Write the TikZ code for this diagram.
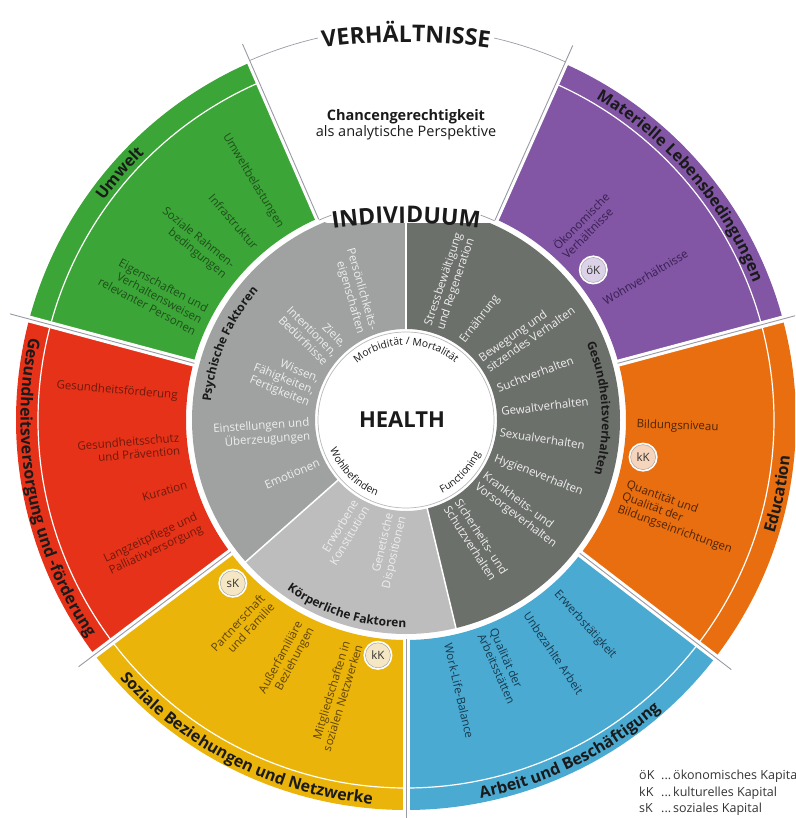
\documentclass[tikz,border=0pt]{standalone}
\usepackage{fontspec}
\setmainfont{Open Sans}
\usepackage{xcolor}
\usepackage{tikz}
\usetikzlibrary{positioning, decorations.text}

\definecolor{umwelt}{HTML}{3CA537}
\definecolor{versorgung}{HTML}{E63219}
\definecolor{sozial}{HTML}{EBB40A}
\definecolor{arbeit}{HTML}{4BAAD2}
\definecolor{bildung}{HTML}{E86E0F}
\definecolor{materiell}{HTML}{8255A5}
\definecolor{verhalten}{HTML}{6C706B}
\definecolor{psyche}{HTML}{A0A2A2}
\definecolor{koerper}{HTML}{BCBDBC}
\definecolor{umwelttxt}{HTML}{1E4F1C}
\definecolor{versorgungtxt}{HTML}{6E1A0C}
\definecolor{sozialtxt}{HTML}{5E4308}
\definecolor{arbeittxt}{HTML}{173A4E}
\definecolor{bildungtxt}{HTML}{4E2408}
\definecolor{materielltxt}{HTML}{37204F}
\definecolor{ringtxt}{HTML}{EEEEEE}
\definecolor{ttl}{HTML}{1A1A1A}
\definecolor{divgray}{HTML}{9A9AA6}
\definecolor{capoek}{HTML}{DCD2E8}
\definecolor{capkk}{HTML}{F6D5BC}
\definecolor{capsk}{HTML}{F5E6C4}

\newcommand{\itemfont}{\fontsize{11.5}{13}\selectfont}
\newcommand{\ttlfont}{\fontsize{16}{16}\selectfont\bfseries}
\newcommand{\ringfont}{\fontsize{12}{12}\selectfont\bfseries}
\newcommand{\corefont}{\fontsize{10.3}{10}\selectfont}

\tikzset{
  ltxt/.style={font=\itemfont, inner sep=0.5pt, anchor=east, align=right},
  rtxt/.style={font=\itemfont, inner sep=0.5pt, anchor=west, align=left},
  capital/.style={circle, minimum size=25pt, inner sep=0pt, fill=#1, draw=gray!70, line width=0.5pt,
    preaction={draw=white, line width=4pt}, font=\fontsize{11.5}{11}\selectfont, text=black!80},
  divider/.style={draw=divgray, line width=0.9pt},
  gap/.style={draw=white, line width=7pt},
  ttlarc/.style={decorate, decoration={text along path, text align=center, text color=ttl, text={|\ttlfont|#1}}},
  ringarc/.style={decorate, decoration={text along path, text align=center, text color=ttl, text={|\ringfont|#1}}},
  corearc/.style={decorate, decoration={text along path, text align=center, text color=ttl, text={|\corefont|#1}}},
  legend/.style={font=\fontsize{12.5}{14}\selectfont, text=black!80, anchor=base west, inner sep=0pt},
}

\begin{document}
\begin{tikzpicture}[x=1pt, y=1pt]
  \useasboundingbox (-406,-398) rectangle (389,420);
  \clip (-406,-398) rectangle (389,420);

  % Outer ring: Verhaeltnisse
  \foreach \a/\b/\c in {113.5/165/umwelt, 165/217/versorgung, 217/270/sozial,
                        270/322.5/arbeit, 322.5/375/bildung, 15/66/materiell} {
    \fill[\c] (\a:220) arc[start angle=\a, end angle=\b, radius=220]
      -- (\b:390) arc[start angle=\b, end angle=\a, radius=390] -- cycle;
    \draw[white, line width=1.2pt] (\a:368) arc[start angle=\a, end angle=\b, radius=368];
  }

  % Inner ring: Individuum
  \foreach \a/\b/\c in {-76.5/90/verhalten, 90/221.5/psyche, 221.5/283.5/koerper} {
    \fill[\c] (\a:91) arc[start angle=\a, end angle=\b, radius=91]
      -- (\b:214) arc[start angle=\b, end angle=\a, radius=214] -- cycle;
  }
  \foreach \a in {90, 221.5, 283.5}
    \draw[white, line width=1.5pt] (\a:90) -- (\a:215);

  % Core
  \fill[white] (0,0) circle[radius=89.5];
  \draw[gray!55, line width=0.7pt] (0,0) circle[radius=88];

  % Sector borders
  \foreach \a in {15, 66, 113.5, 165, 217, 270, 322.5} {
    \draw[gap] (\a:215) -- (\a:420);
    \draw[divider] (\a:219) -- (\a:410);
  }

  % Headings of both rings
  \fill[white, rounded corners=6pt] (-84,197) rectangle (88,232);
  \draw[divider, line width=0.7pt] (113.5:218) arc[start angle=113.5, end angle=110, radius=218];
  \draw[divider, line width=0.7pt] (70:218) arc[start angle=70, end angle=66, radius=218];
  \draw[divider, line width=0.7pt] (113.5:392) arc[start angle=113.5, end angle=103, radius=392];
  \draw[divider, line width=0.7pt] (77:392) arc[start angle=77, end angle=66, radius=392];
  \path[decorate, decoration={text along path, text align=center, text color=ttl,
      text={|\fontsize{23}{23}\selectfont\bfseries|VERHÄLTNISSE}}]
    ([shift={(0,-222)}]101:600) arc[start angle=101, end angle=79, radius=600];
  \path[decorate, decoration={text along path, text align=center, text color=ttl,
      text={|\fontsize{23}{23}\selectfont\bfseries|INDIVIDUUM}}]
    ([shift={(0,-303)}]100:500) arc[start angle=100, end angle=80, radius=500];

  \node[align=center, font=\fontsize{14.5}{16}\selectfont, text=ttl] (chance) at (0,295)
    {\textbf{Chancengerechtigkeit}\\als analytische Perspektive};

  % Sector titles
  \path[ttlarc=Umwelt] (165:373.5) arc[start angle=165, end angle=113.5, radius=373.5];
  \path[ttlarc=Materielle Lebensbedingungen] (66:373.5) arc[start angle=66, end angle=15, radius=373.5];
  \path[ttlarc=Gesundheitsversorgung und -förderung] (165:385.5) arc[start angle=165, end angle=217, radius=385.5];
  \path[ttlarc=Soziale Beziehungen und Netzwerke] (217:385.5) arc[start angle=217, end angle=270, radius=385.5];
  \path[ttlarc=Arbeit und Beschäftigung] (270:385.5) arc[start angle=270, end angle=322.5, radius=385.5];
  \path[ttlarc=Education] (322.5:385.5) arc[start angle=322.5, end angle=375, radius=385.5];

  % Umwelt
  \node[ltxt, text=umwelttxt, rotate=-59] (ubel) at (123:229) {Umweltbelastungen};
  \node[ltxt, text=umwelttxt, rotate=-49] (infra) at (131:228) {Infrastruktur};
  \node[ltxt, text=umwelttxt, rotate=-39] (rahmen) at (140:231) {Soziale Rahmen-\\bedingungen};
  \node[ltxt, text=umwelttxt, rotate=-28] (personen) at (154:227) {Eigenschaften und\\Verhaltensweisen\\relevanter Personen};

  % Gesundheitsversorgung
  \node[ltxt, text=versorgungtxt, rotate=-5] (foerd) at (174:229) {Gesundheitsförderung};
  \node[ltxt, text=versorgungtxt, rotate=5] (schutz) at (186:227) {Gesundheitsschutz\\und Prävention};
  \node[ltxt, text=versorgungtxt, rotate=16] (kur) at (196.5:228) {Kuration};
  \node[ltxt, text=versorgungtxt, rotate=25] (pflege) at (206.5:230) {Langzeitpflege und\\Palliativversorgung};

  % Soziale Beziehungen
  \node[ltxt, text=sozialtxt, rotate=47] (familie) at (232.5:227) {Partnerschaft\\und Familie};
  \node[ltxt, text=sozialtxt, rotate=62] (ausser) at (244:228) {Außerfamiliäre\\Beziehungen};
  \node[ltxt, text=sozialtxt, rotate=73] (netz) at (256.5:229) {Mitgliedschaften in\\sozialen Netzwerken};

  % Arbeit
  \node[rtxt, text=arbeittxt, rotate=-48] (erwerb) at (-49:228) {Erwerbstätigkeit};
  \node[rtxt, text=arbeittxt, rotate=-56] (unbez) at (-58:227) {Unbezahlte Arbeit};
  \node[rtxt, text=arbeittxt, rotate=-66] (staette) at (-69:226) {Qualität der\\Arbeitsstätten};
  \node[rtxt, text=arbeittxt, rotate=-77] (wlb) at (-79.3:227) {Work-Life-Balance};

  % Education
  \node[rtxt, text=bildungtxt, rotate=-2] (niveau) at (-1.2:230) {Bildungsniveau};
  \node[rtxt, text=bildungtxt, rotate=-20] (einr) at (-19.6:229) {Quantität und\\Qualität der\\Bildungseinrichtungen};

  % Materielle Lebensbedingungen
  \node[rtxt, text=materielltxt, rotate=45] (oekon) at (47.7:227) {Ökonomische\\Verhältnisse};
  \node[rtxt, text=materielltxt, rotate=30.5] (wohn) at (30.9:230) {Wohnverhältnisse};

  % Gesundheitsverhalten
  \node[rtxt, text=ringtxt, rotate=71.6] (stress) at (72.7:96) {Stressbewältigung\\und Regeneration};
  \node[rtxt, text=ringtxt, rotate=52] (ernaehr) at (54.2:96) {Ernährung};
  \node[rtxt, text=ringtxt, rotate=35] (beweg) at (35.8:95) {Bewegung und\\sitzendes Verhalten};
  \node[rtxt, text=ringtxt, rotate=21] (sucht) at (19:96) {Suchtverhalten};
  \node[rtxt, text=ringtxt, rotate=7] (gewalt) at (5:95) {Gewaltverhalten};
  \node[rtxt, text=ringtxt, rotate=-8.5] (sex) at (-7.5:94) {Sexualverhalten};
  \node[rtxt, text=ringtxt, rotate=-21.5] (hyg) at (-23.3:96) {Hygieneverhalten};
  \node[rtxt, text=ringtxt, rotate=-37] (vorsorge) at (-39.3:95) {Krankheits- und\\Vorsorgeverhalten};
  \node[rtxt, text=ringtxt, rotate=-57] (sicher) at (-61:95) {Sicherheits- und\\Schutzverhalten};

  % Psychische Faktoren
  \node[ltxt, text=ringtxt, rotate=-74] (pers) at (114:96) {Persönlichkeits-\\eigenschaften};
  \node[ltxt, text=ringtxt, rotate=-45] (ziele) at (137:96) {Ziele,\\Intentionen,\\Bedürfnisse};
  \node[ltxt, text=ringtxt, rotate=-22] (wissen) at (163:96) {Wissen,\\Fähigkeiten,\\Fertigkeiten};
  \node[ltxt, text=ringtxt, rotate=4] (einst) at (186:96) {Einstellungen und\\Überzeugungen};
  \node[ltxt, text=ringtxt, rotate=23] (emo) at (206:96) {Emotionen};

  % Koerperliche Faktoren
  \node[ltxt, text=ringtxt, rotate=59] (konst) at (241.7:95) {Erworbene\\Konstitution};
  \node[ltxt, text=ringtxt, rotate=77] (disp) at (264.4:95) {Genetische\\Dispositionen};

  % Ring titles
  \path[ringarc=Psychische Faktoren] (221.5:196) arc[start angle=221.5, end angle=92, radius=196];
  \path[ringarc=Gesundheitsverhalten] (40:196) arc[start angle=40, end angle=-33, radius=196];
  \path[ringarc=Körperliche Faktoren] (221.5:207.5) arc[start angle=221.5, end angle=283.5, radius=207.5];

  % Core
  \node[font=\fontsize{22}{22}\selectfont\bfseries, text=ttl] (health) at (-4,0) {HEALTH};
  \path[corearc=Morbidität / Mortalität] (150:75) arc[start angle=150, end angle=30, radius=75];
  \path[corearc=Wohlbefinden] (190:81.5) arc[start angle=190, end angle=260, radius=81.5];
  \path[corearc=Functioning] (-80:81.5) arc[start angle=-80, end angle=-8, radius=81.5];

  % Capital
  \node[capital=capoek] (oek) at (38.7:240) {öK};
  \node[capital=capkk] (kkbild) at (-8.9:240) {kK};
  \node[capital=capsk] (sk) at (223.3:238) {sK};
  \node[capital=capsk] (kksoz) at (263.2:237) {kK};

  % Legend
  \node[legend] (l1a) at (233,-359) {öK};
  \node[legend] (l1b) at (255,-359) {...};
  \node[legend] (l1c) at (267,-359) {ökonomisches Kapital};
  \node[legend] (l2a) at (233,-376) {kK};
  \node[legend] (l2b) at (255,-376) {...};
  \node[legend] (l2c) at (267,-376) {kulturelles Kapital};
  \node[legend] (l3a) at (233,-392) {sK};
  \node[legend] (l3b) at (255,-392) {...};
  \node[legend] (l3c) at (267,-392) {soziales Kapital};
\end{tikzpicture}
\end{document}
